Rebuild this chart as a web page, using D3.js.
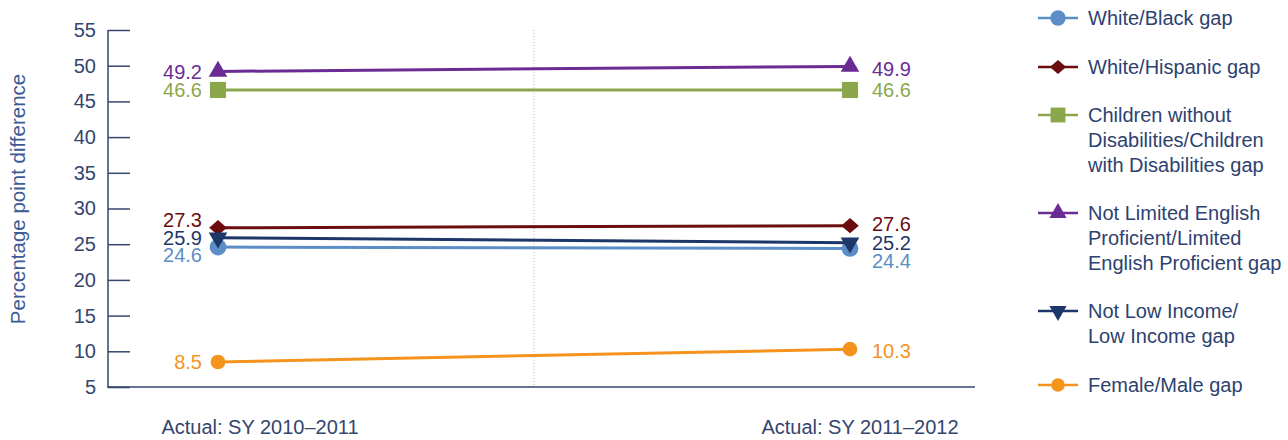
<!DOCTYPE html>
<html><head><meta charset="utf-8">
<script src="https://cdn.jsdelivr.net/npm/d3@7"></script>
<style>body{margin:0;background:#fff}svg{display:block;font-family:"Liberation Sans",Arial,sans-serif}</style>
</head><body><svg id="c" width="1288" height="440"></svg>
<script>
const categories = ["Actual: SY 2010\u20132011", "Actual: SY 2011\u20132012"];
const seriesNames = ["White/Black gap", "White/Hispanic gap", "Children without Disabilities/Children with Disabilities gap", "Not Limited English Proficient/Limited English Proficient gap", "Not Low Income/Low Income gap", "Female/Male gap"];
const whiteBlack = [24.6, 24.4];
const whiteHispanic = [27.3, 27.6];
const disabilities = [46.6, 46.6];
const englishProficient = [49.2, 49.9];
const lowIncome = [25.9, 25.2];
const femaleMale = [8.5, 10.3];
const yTicks = [5, 10, 15, 20, 25, 30, 35, 40, 45, 50, 55];
const legendLines = [["White/Black gap"], ["White/Hispanic gap"], ["Children without", "Disabilities/Children", "with Disabilities gap"], ["Not Limited English", "Proficient/Limited", "English Proficient gap"], ["Not Low Income/", "Low Income gap"], ["Female/Male gap"]];

const allValues = [whiteBlack, whiteHispanic, disabilities, englishProficient, lowIncome, femaleMale];
const style = [
  {color:"#5b8ec6", sym:d3.symbolCircle, size:220, dyL:8, dyR:12},
  {color:"#6b0d0d", sym:d3.symbolDiamond2, size:150, sx:1.15, dyL:-8, dyR:-2},
  {color:"#8aa84b", sym:d3.symbolSquare, size:260, dyL:0, dyR:0},
  {color:"#6a2c94", sym:d3.symbolTriangle, size:150, dyL:0, dyR:2},
  {color:"#1d3768", sym:d3.symbolTriangle, size:150, rot:180, dyL:0, dyR:0},
  {color:"#f5931f", sym:d3.symbolCircle, size:170, dyL:0, dyR:2}
];
const axisColor = "#34456e";
const FS = 20;
const svg = d3.select("#c");
const x = d3.scalePoint().domain(categories).range([218, 850]);
const y = d3.scaleLinear().domain([5, 55]).range([387, 30]);

function tf(s, px, py){
  return `translate(${px},${py})${s.rot?" rotate("+s.rot+")":""}${s.sx?" scale("+s.sx+",1)":""}`;
}

// midline
const mid = (x(categories[0])+x(categories[1]))/2;
svg.append("line").attr("x1",mid).attr("x2",mid)
  .attr("y1",y(55)).attr("y2",y(5)).attr("stroke","#b8b8b8").attr("stroke-width",1).attr("stroke-dasharray","1,2");

// y axis
const yAxis = svg.append("g").attr("transform","translate(108,0)")
  .call(d3.axisRight(y).tickValues(yTicks).tickSize(22).tickFormat(d3.format("d")));
yAxis.select(".domain").remove();
yAxis.selectAll(".tick line").attr("stroke",axisColor).attr("stroke-width",1.5);
yAxis.selectAll(".tick text").attr("x",-12).attr("text-anchor","end").attr("fill",axisColor)
  .attr("font-size",FS).attr("font-family","Liberation Sans, Arial, sans-serif");
svg.append("line").attr("x1",108).attr("x2",108).attr("y1",y(55)).attr("y2",y(5)+0.75).attr("stroke",axisColor).attr("stroke-width",1.5);
svg.append("line").attr("x1",107.25).attr("x2",975).attr("y1",y(5)).attr("y2",y(5)).attr("stroke",axisColor).attr("stroke-width",1.5);

svg.append("text").attr("transform","translate(25,199) rotate(-90)").attr("text-anchor","middle")
  .attr("fill","#3d5a94").attr("font-size",20.5).text("Percentage point difference");

// category labels
svg.append("text").attr("x",x(categories[0])+42).attr("y",434).attr("text-anchor","middle").attr("fill",axisColor).attr("font-size",FS).text(categories[0]);
svg.append("text").attr("x",x(categories[1])+10).attr("y",434).attr("text-anchor","middle").attr("fill",axisColor).attr("font-size",FS).text(categories[1]);

const line = d3.line().x((d,i)=>x(categories[i])).y(d=>y(d));
allValues.forEach((vals,k)=>{
  const s = style[k];
  const g = svg.append("g");
  g.append("path").attr("d",line(vals)).attr("fill","none").attr("stroke",s.color).attr("stroke-width",3);
  vals.forEach((v,i)=>{
    g.append("path").attr("d",d3.symbol().type(s.sym).size(s.size)())
      .attr("transform",tf(s, x(categories[i]), y(v))).attr("fill",s.color);
    g.append("text").attr("x", i===0 ? x(categories[i])-16 : x(categories[i])+22)
      .attr("y", y(v) + (i===0 ? s.dyL : s.dyR)).attr("dy","0.36em")
      .attr("text-anchor", i===0 ? "end" : "start").attr("fill",s.color).attr("font-size",FS)
      .text(v.toFixed(1));
  });
});

// legend
const legendY = [18, 67, 115, 213, 311, 385];
legendLines.forEach((lines,k)=>{
  const s = style[k];
  const g = svg.append("g").attr("transform",`translate(0,${legendY[k]})`);
  g.append("line").attr("x1",1038).attr("x2",1078).attr("stroke",s.color).attr("stroke-width",2.5);
  g.append("path").attr("d",d3.symbol().type(s.sym).size(s.size*0.85)()).attr("transform",tf(s,1058,0)).attr("fill",s.color);
  const t = g.append("text").attr("x",1088).attr("fill","#2d4270").attr("font-size",FS);
  lines.forEach((ln,j)=>t.append("tspan").attr("x",1088).attr("y",j*25).attr("dy","0.36em").text(ln));
});
</script></body></html>
